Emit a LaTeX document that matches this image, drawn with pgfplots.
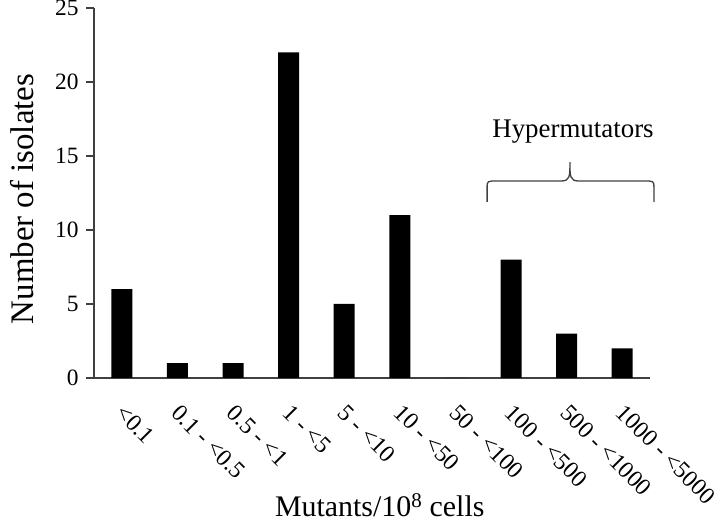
\documentclass[border=0pt]{standalone}
\usepackage{pgfplots}
\pgfplotsset{compat=1.18}
\usepackage{fontspec}
\setmainfont{Liberation Serif}
\definecolor{axgray}{HTML}{404040}
\begin{document}
\begin{tikzpicture}[x=1bp,y=1bp]
\useasboundingbox (0,0) rectangle (720,524);
\begin{axis}[
  at={(94bp,146bp)}, anchor=south west,
  scale only axis, width=556bp, height=370bp,
  /pgf/number format/assume math mode=true,
  xmin=-0.5, xmax=9.5, ymin=0, ymax=25,
  axis x line*=bottom, axis y line*=left,
  axis line style={-, draw=axgray, line width=1.1bp},
  ytick={0,5,10,15,20,25},
  ytick pos=left, tick align=outside,
  major tick length=8bp,
  ytick style={draw=axgray, line width=1.1bp},
  xtick=data,
  xtick style={draw=none},
  xticklabels={{<0.1},{0.1 - <0.5},{0.5 - <1},{1 - <5},{5 - <10},{10 - <50},{50 - <100},{100 - <500},{500 - <1000},{1000 - <5000}},
  xticklabel style={xshift=4bp, rotate=-45, anchor=north west, inner sep=0pt, font=\fontsize{24}{28}\selectfont},
  xticklabel shift=17bp,
  yticklabel style={font=\fontsize{23.5}{27}\selectfont, xshift=-4bp},
  xlabel={Mutants/10\textsuperscript{8} cells},
  ylabel={Number of isolates},
  xlabel style={font=\fontsize{30}{34}\selectfont, at={(axis description cs:0.514,-0.345)}, anchor=center},
  ylabel style={font=\fontsize{33}{37}\selectfont, at={(axis description cs:-0.1295,0.484)}, anchor=center},
  clip=false,
]
\addplot[ybar, bar width=21bp, fill=black, draw=none] coordinates {
  (0,6) (1,1) (2,1) (3,22) (4,5) (5,11) (6,0) (7,8) (8,3) (9,2)
};
\node[anchor=base, font=\fontsize{27}{31}\selectfont] at (axis cs:8.115,16.28) {Hypermutators};
\draw[axgray, line width=1.3bp]
  (axis cs:6.57,11.9) -- (axis cs:6.57,12.85)
  .. controls (axis cs:6.57,13.31) .. (axis cs:6.75,13.31)
  -- (axis cs:7.90,13.31)
  .. controls (axis cs:8.06,13.31) and (axis cs:8.06,13.6) .. (axis cs:8.06,14.59)
  .. controls (axis cs:8.06,13.6) and (axis cs:8.06,13.31) .. (axis cs:8.22,13.31)
  -- (axis cs:9.39,13.31)
  .. controls (axis cs:9.57,13.31) .. (axis cs:9.57,12.85)
  -- (axis cs:9.57,11.9);
\end{axis}
\end{tikzpicture}
\end{document}
